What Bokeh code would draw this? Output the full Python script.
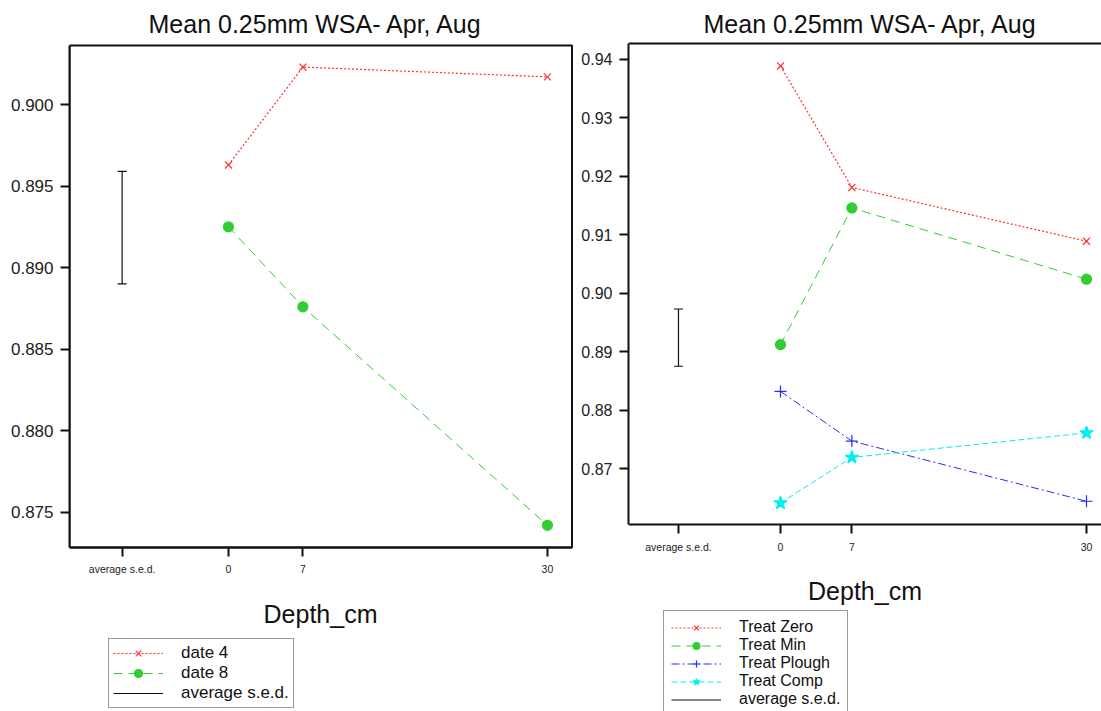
from bokeh.plotting import figure
from bokeh.layouts import row
from bokeh.models import (Range1d, FixedTicker, Legend, LegendItem, Span, NumeralTickFormatter,
                          LinearAxis, BoxAnnotation)
from bokeh.embed import file_html
from bokeh.resources import INLINE

# ---------------- data ----------------
title_text = "Mean 0.25mm WSA- Apr, Aug"
x_axis_title = "Depth_cm"
depth = [0, 7, 30]
sed_position = [-10]
x_tick_positions = [-10, 0, 7, 30]
x_tick_labels = ["average s.e.d.", "0", "7", "30"]

# left panel
date4 = [0.8963, 0.9023, 0.9017]
date8 = [0.8925, 0.8876, 0.8742]
sed_left_low = [0.8890]
sed_left_high = [0.8959]
left_yticks = [0.875, 0.880, 0.885, 0.890, 0.895, 0.900]

# right panel
treat_zero = [0.9389, 0.9181, 0.9089]
treat_min = [0.8912, 0.9146, 0.9024]
treat_plough = [0.8832, 0.8747, 0.8644]
treat_comp = [0.8641, 0.8719, 0.8761]
sed_right_low = [0.8875]
sed_right_high = [0.8973]
right_yticks = [0.87, 0.88, 0.89, 0.90, 0.91, 0.92, 0.93, 0.94]

FONT = "Liberation Sans"

# panel geometry (axis extents of each plotting box)
L_X = (-14.95, 32.31)
L_Y = (0.87284, 0.90362)
R_X = (-14.9, 31.47)
R_Y = (0.86042, 0.94274)


def base_fig(width, bl, br, xr, yr, xbox, ybox, yticks, yfmt, ysize, title_offset):
    p = figure(width=width, height=711, x_range=Range1d(*xr), y_range=Range1d(*yr),
               output_backend="svg", toolbar_location=None, x_axis_location=None,
               min_border_left=bl, min_border_right=br, min_border_top=41, min_border_bottom=0)
    p.grid.visible = False
    p.background_fill_color = "white"
    p.border_fill_color = "white"
    p.outline_line_color = None
    p.title.text = title_text
    p.title.text_font = FONT
    p.title.text_font_size = "25px"
    p.title.text_font_style = "normal"
    p.title.text_color = "#111111"
    p.title.align = "left"
    p.title.vertical_align = "top"
    p.title.offset = title_offset
    p.title.standoff = 4

    xa = LinearAxis(fixed_location=ybox[0], bounds=xbox)
    p.add_layout(xa, "below")

    for ax in (xa, p.yaxis[0]):
        ax.axis_line_width = 2
        ax.axis_line_color = "#111111"
        ax.major_tick_line_width = 2
        ax.major_tick_line_color = "#111111"
        ax.major_tick_out = 9
        ax.major_tick_in = 0
        ax.minor_tick_line_color = None
        ax.major_label_text_font = FONT
        ax.major_label_text_color = "#222222"
        ax.major_label_standoff = 7

    xa.ticker = FixedTicker(ticks=x_tick_positions)
    xa.major_label_overrides = {k: v for k, v in zip(x_tick_positions, x_tick_labels)}
    xa.major_label_text_font_size = "10.5px"
    xa.axis_label = x_axis_title
    xa.axis_label_text_font = FONT
    xa.axis_label_text_font_size = "25px"
    xa.axis_label_text_font_style = "normal"
    xa.axis_label_text_color = "#111111"
    xa.axis_label_standoff = 21

    ya = p.yaxis[0]
    ya.bounds = ybox
    ya.ticker = FixedTicker(ticks=yticks)
    ya.formatter = NumeralTickFormatter(format=yfmt)
    ya.major_label_text_font_size = ysize
    return p


def add_series(p, ys, color, dash, marker, size, fill, lw=1.0):
    ln = p.line(depth, ys, line_color=color, line_width=lw, line_dash=dash)
    sc = p.scatter(depth, ys, marker=marker, size=size, line_color=color,
                   fill_color=color if fill else None, line_width=1.2)
    return [ln, sc]


def add_sed(p, lo, hi, color):
    stem = p.segment(x0=sed_position, y0=lo, x1=sed_position, y1=hi, line_color=color, line_width=1.2)
    p.scatter(sed_position, lo, marker="dash", size=9, line_color=color, line_width=1.2)
    p.scatter(sed_position, hi, marker="dash", size=9, line_color=color, line_width=1.2)
    return [stem]


def style_legend(leg, size, row_h, pad):
    leg.label_text_font = FONT
    leg.label_text_font_size = size
    leg.label_text_color = "#111111"
    leg.glyph_width = 50
    leg.glyph_height = row_h
    leg.label_height = row_h
    leg.label_standoff = 18
    leg.spacing = 0
    leg.padding = pad
    leg.margin = 0
    leg.border_line_color = "#333333"
    leg.border_line_width = 1.5
    leg.background_fill_color = "white"
    leg.background_fill_alpha = 1


# ---------------- left figure ----------------
# pixel scale: 10.633 px per x unit, 6.1315e-5 per px in y
p1 = base_fig(578, 69, 3, (L_X[0], 32.64), (0.86278, 0.90387), L_X, L_Y,
              left_yticks, "0.000", "17px", 79)
p1.add_layout(BoxAnnotation(left=L_X[0], right=L_X[1], bottom=L_Y[0], top=L_Y[1],
                            fill_alpha=0, line_color="#111111", line_alpha=1.0, line_width=2))
r_d4 = add_series(p1, date4, "#ff3030", "2 2", "x", 10, False, 1.2)
r_d8 = add_series(p1, date8, "#33cc33", "9 6", "circle", 10, True)
r_s1 = add_sed(p1, sed_left_low, sed_left_high, "#111111")
leg1 = Legend(items=[LegendItem(label="date 4", renderers=r_d4),
                     LegendItem(label="date 8", renderers=r_d8),
                     LegendItem(label="average s.e.d.", renderers=r_s1)],
              location=(39, 3))
style_legend(leg1, "17px", 20, 4)
p1.add_layout(leg1)

# ---------------- right figure ----------------
p2 = base_fig(523, 50, 0, R_X, (0.82842, 0.94308), R_X, R_Y,
              right_yticks, "0.00", "16px", 75)
p2.add_layout(Span(location=R_Y[1], dimension="width", line_color="#111111", line_width=2))
r_z = add_series(p2, treat_zero, "#ff3030", "2 2", "x", 10, False, 1.2)
r_m = add_series(p2, treat_min, "#33cc33", "9 6", "circle", 10, True)
r_p = add_series(p2, treat_plough, "#2a2aff", "8 3 2 3", "cross", 12, False)
r_c = add_series(p2, treat_comp, "#00f0f0", "6 3", "star", 14, True)
r_s2 = add_sed(p2, sed_right_low, sed_right_high, "#111111")
leg2 = Legend(items=[LegendItem(label="Treat Zero", renderers=r_z),
                     LegendItem(label="Treat Min", renderers=r_m),
                     LegendItem(label="Treat Plough", renderers=r_p),
                     LegendItem(label="Treat Comp", renderers=r_c),
                     LegendItem(label="average s.e.d.", renderers=r_s2)],
              location=(35, -5))
style_legend(leg2, "16px", 17, 7)
p2.add_layout(leg2)

layout = row(p1, p2)
open("out.html", "w").write(file_html(layout, INLINE))
